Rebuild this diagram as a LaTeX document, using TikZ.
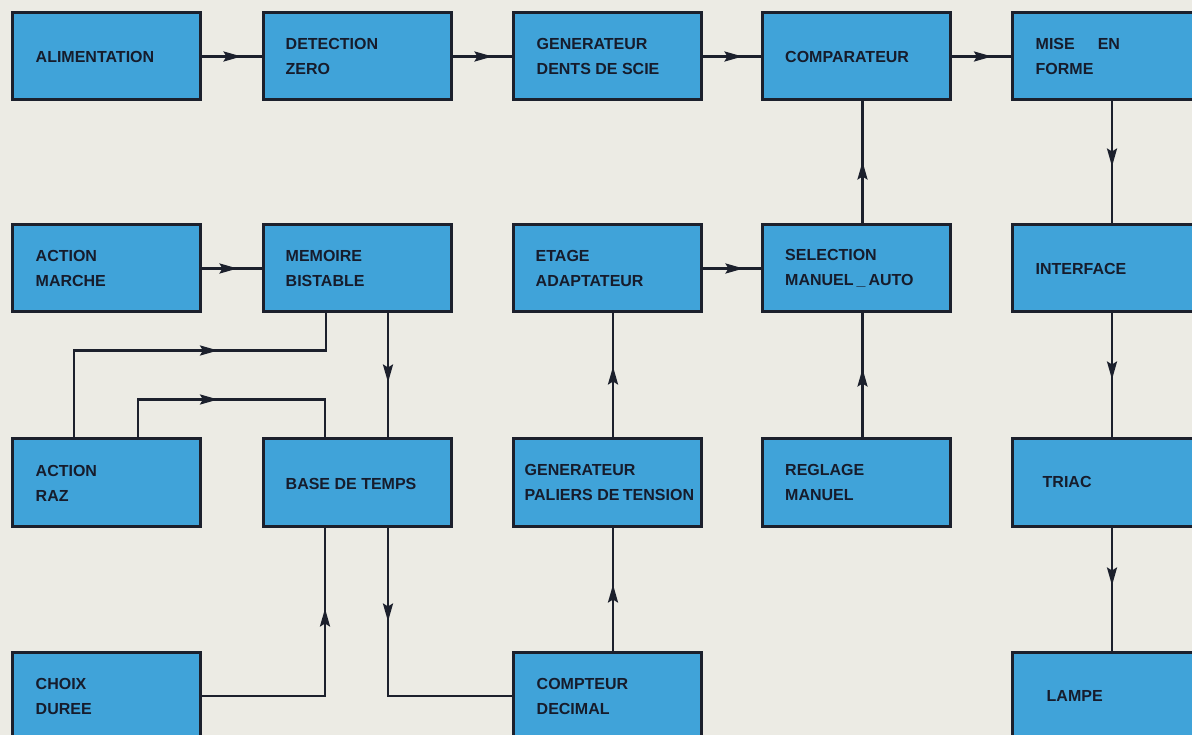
\documentclass[tikz,border=0pt]{standalone}
\usepackage{fontspec}
\setmainfont{Liberation Sans}
\usetikzlibrary{arrows.meta,decorations.markings}
\definecolor{paper}{RGB}{236,235,228}
\definecolor{boxblue}{RGB}{64,163,217}
\definecolor{edgecol}{RGB}{28,32,44}
\definecolor{ink}{RGB}{22,28,44}
\begin{document}
\begin{tikzpicture}[x=1pt,y=-1pt,
  box/.style={draw=edgecol, line width=3pt, fill=boxblue, inner sep=0pt, minimum width=188pt, minimum height=87pt},
  boxb/.style={box, minimum height=88pt},
  lbl/.style={text=ink, font=\bfseries\fontsize{16}{25}\selectfont, inner sep=0pt, align=left, anchor=west},
  conn/.style={draw=edgecol, line width=2.5pt},
  arr/.style={decoration={markings, mark=at position #1 with {\arrow{Stealth[length=18pt,width=10pt,inset=3pt]}}}, postaction={decorate}}]
\useasboundingbox (0,0) rectangle (1192,735);
\fill[paper] (0,0) rectangle (1192,735);
\clip (0,0) rectangle (1192,735);

% row 1
\node[box] (alim) at (106,56.5) {};
\node[box] (det)  at (357,56.5) {};
\node[box] (gds)  at (607,56.5) {};
\node[box] (comp) at (856.5,56.5) {};
\node[box] (mef)  at (1106,56.5) {};
% row 2
\node[box] (marche) at (106,268.5) {};
\node[box] (mem)    at (357,268.5) {};
\node[box] (etage)  at (607,268.5) {};
\node[box] (sel)    at (856.5,268.5) {};
\node[box] (inter)  at (1106,268.5) {};
% row 3
\node[boxb] (raz)   at (106,482) {};
\node[boxb] (base)  at (357,482) {};
\node[boxb] (gpt)   at (607,482) {};
\node[boxb] (regl)  at (856.5,482) {};
\node[boxb] (triac) at (1106,482) {};
% row 4
\node[boxb] (choix) at (106,696) {};
\node[boxb] (cpt)   at (607,696) {};
\node[boxb] (lampe) at (1106,696) {};

% labels
\node[lbl] (t1)  at ([xshift=25pt]alim.west) {ALIMENTATION};
\node[lbl] (t2)  at ([xshift=24pt]det.west) {DETECTION\\ZERO};
\node[lbl] (t3)  at ([xshift=25pt]gds.west) {GENERATEUR\\DENTS DE SCIE};
\node[lbl] (t4)  at ([xshift=24pt]comp.west) {COMPARATEUR};
\node[lbl] (t5)  at ([xshift=25pt]mef.west) {MISE\hspace{23pt}EN\\FORME};
\node[lbl] (t6)  at ([xshift=25pt]marche.west) {ACTION\\MARCHE};
\node[lbl] (t7)  at ([xshift=24pt]mem.west) {MEMOIRE\\BISTABLE};
\node[lbl] (t8)  at ([xshift=24pt]etage.west) {ETAGE\\ADAPTATEUR};
\node[lbl] (t9)  at ([xshift=24pt]sel.west) {SELECTION\\MANUEL\kern3pt\_\kern3pt AUTO};
\node[lbl] (t10) at ([xshift=25pt]inter.west) {INTERFACE};
\node[lbl] (t11) at ([xshift=25pt,yshift=-1pt]raz.west) {ACTION\\RAZ};
\node[lbl] (t12) at ([xshift=24pt,yshift=-2pt]base.west) {BASE DE TEMPS};
\node[lbl] (t13) at ([xshift=13pt]gpt.west) {GENERATEUR\\PALIERS DE\kern-1pt\ TENSION};
\node[lbl] (t14) at ([xshift=24pt]regl.west) {REGLAGE\\MANUEL};
\node[lbl] (t15) at ([xshift=32pt]triac.west) {TRIAC};
\node[lbl] (t16) at ([xshift=25pt]choix.west) {CHOIX\\DUREE};
\node[lbl] (t17) at ([xshift=25pt]cpt.west) {COMPTEUR\\DECIMAL};
\node[lbl] (t18) at ([xshift=36pt]lampe.west) {LAMPE};

% connectors row 1
\draw[conn, arr=40pt] (alim.east) -- (det.west);
\draw[conn, arr=40pt] (det.east) -- (gds.west);
\draw[conn, arr=40pt] (gds.east) -- (comp.west);
\draw[conn, arr=40pt] (comp.east) -- (mef.west);
% right column
\draw[conn, arr=65pt] ([xshift=6pt]mef.south) -- ([xshift=6pt]inter.north);
\draw[conn, arr=66pt] ([xshift=6pt]inter.south) -- ([xshift=6pt]triac.north);
\draw[conn, arr=58pt] ([xshift=6pt]triac.south) -- ([xshift=6pt]lampe.north);
% column 4
\draw[conn, arr=62pt] ([xshift=6pt]sel.north) -- ([xshift=6pt]comp.south);
\draw[conn, arr=68pt] ([xshift=6pt]regl.north) -- ([xshift=6pt]sel.south);
% column 3
\draw[conn, arr=41pt] (etage.east) -- (sel.west);
\draw[conn, arr=70pt] ([xshift=6pt]gpt.north) -- ([xshift=6pt]etage.south);
\draw[conn, arr=66pt] ([xshift=6pt]cpt.north) -- ([xshift=6pt]gpt.south);
% left part
\draw[conn, arr=36pt] (marche.east) -- (mem.west);
\draw[conn, arr=69pt] ([xshift=31pt]mem.south) -- ([xshift=31pt]base.north);
\draw[conn, arr=230pt] ([xshift=-32pt]raz.north) -- ++(0,-86) -| ([xshift=-31pt]mem.south);
\draw[conn, arr=117pt] ([xshift=32pt]raz.north) -- ++(0,-37) -| ([xshift=-32pt]base.north);
\draw[conn, arr=211pt] (choix.east) -| ([xshift=-32pt]base.south);
\draw[conn, arr=94pt] ([xshift=31pt]base.south) |- (cpt.west);
\end{tikzpicture}
\end{document}
